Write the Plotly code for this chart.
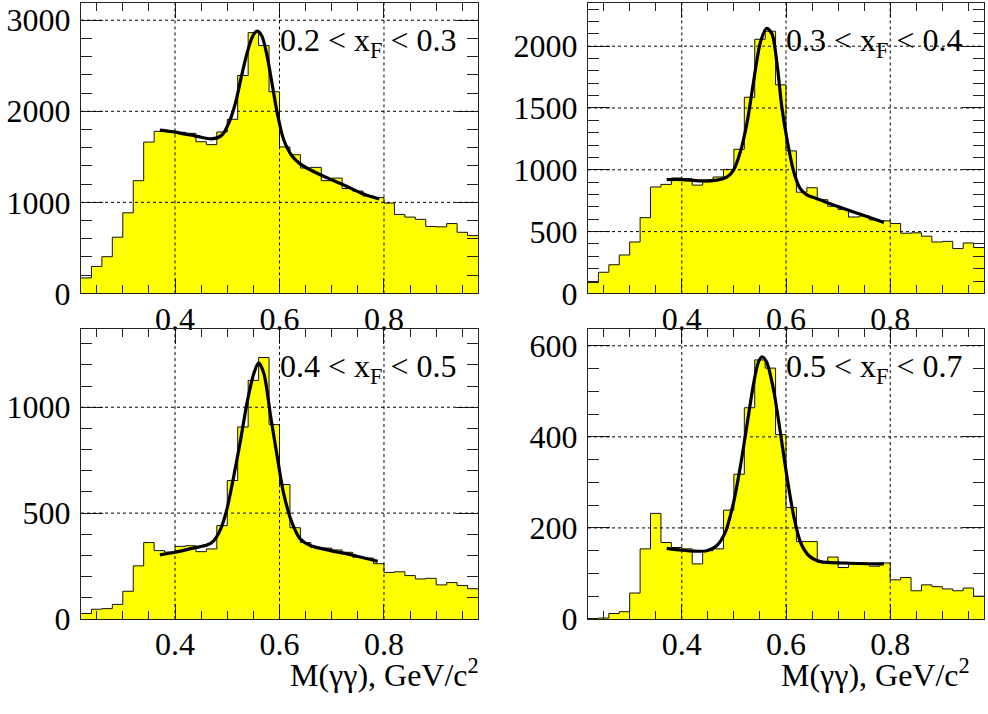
import numpy as np
import plotly.graph_objects as go

# Binning of the two-photon invariant mass histograms (GeV/c^2)
M_LOW, M_HIGH, N_BINS = 0.22, 0.98, 38

# Entries per 20 MeV bin for each x_F interval
counts_02_03 = [170, 296, 403, 617, 885, 1238, 1662, 1780, 1780, 1769,
                1758, 1666, 1634, 1773, 1912, 2393, 2864, 2722, 2215, 1609,
                1523, 1377, 1384, 1238, 1266, 1152, 1124, 1070, 1052, 992,
                867, 838, 813, 735, 731, 767, 671, 635]
counts_03_04 = [88, 171, 232, 311, 416, 613, 861, 882, 934, 929,
                876, 903, 942, 1003, 1166, 1587, 2056, 2121, 1687, 1153,
                819, 855, 758, 705, 679, 618, 626, 595, 587, 566,
                487, 490, 463, 416, 421, 363, 408, 371]
counts_04_05 = [26, 46, 49, 69, 131, 251, 361, 323, 316, 343,
                346, 318, 331, 441, 654, 907, 1127, 1235, 918, 635,
                431, 361, 338, 335, 326, 315, 292, 288, 261, 220,
                223, 205, 189, 192, 161, 172, 158, 143]
counts_05_07 = [1, 2, 12, 16, 57, 154, 232, 168, 157, 154,
                121, 150, 154, 239, 318, 464, 569, 551, 405, 245,
                170, 170, 124, 136, 113, 121, 121, 116, 123, 86,
                91, 62, 75, 71, 66, 62, 68, 50]

# Fitted signal + background curves (mass, entries)
fit_x_02_03 = [0.371, 0.400, 0.442, 0.470, 0.490, 0.505, 0.517, 0.527, 0.538,
               0.549, 0.557, 0.566, 0.576, 0.586, 0.596, 0.608, 0.624, 0.640,
               0.679, 0.724, 0.762, 0.791]
fit_y_02_03 = [1794, 1772, 1725, 1697, 1740, 1900, 2120, 2380, 2640,
               2830, 2880, 2830, 2615, 2294, 1972, 1687, 1509, 1420,
               1300, 1188, 1088, 1038]
fit_x_03_04 = [0.371, 0.400, 0.435, 0.467, 0.487, 0.499, 0.512, 0.525, 0.538,
               0.551, 0.563, 0.573, 0.583, 0.592, 0.602, 0.615, 0.627, 0.640,
               0.660, 0.698, 0.743, 0.788]
fit_y_03_04 = [921, 921, 910, 916, 942, 995, 1140, 1376, 1719,
               2034, 2145, 2100, 1850, 1508, 1245, 982, 850, 797,
               766, 705, 640, 574]
fit_x_04_05 = [0.371, 0.400, 0.435, 0.461, 0.474, 0.487, 0.499, 0.512, 0.525,
               0.538, 0.551, 0.560, 0.570, 0.583, 0.596, 0.608, 0.624, 0.640,
               0.660, 0.698, 0.743, 0.788]
fit_y_04_05 = [303, 315, 335, 349, 369, 423, 515, 669, 838,
               1023, 1161, 1210, 1161, 958, 761, 592, 454, 377,
               346, 323, 300, 272]
fit_x_05_07 = [0.371, 0.400, 0.422, 0.448, 0.467, 0.483, 0.499, 0.512, 0.525,
               0.538, 0.547, 0.554, 0.563, 0.576, 0.589, 0.602, 0.615, 0.628,
               0.644, 0.666, 0.711, 0.788]
fit_y_05_07 = [155, 151, 149, 150, 161, 189, 254, 332, 425,
               518, 564, 576, 564, 504, 411, 311, 225, 168,
               139, 126, 123, 121]

panel_labels = ["0.2 &lt; x<sub>F</sub> &lt; 0.3", "0.3 &lt; x<sub>F</sub> &lt; 0.4",
                "0.4 &lt; x<sub>F</sub> &lt; 0.5", "0.5 &lt; x<sub>F</sub> &lt; 0.7"]
x_title = "M(γγ), GeV/c<sup>2</sup>"

x_major, x_minor = 0.2, 0.05
y_tops = [3190, 2350, 1372, 638]
y_major = [1000, 500, 500, 200]
y_minor = [200, 100, 100, 50]

counts = [counts_02_03, counts_03_04, counts_04_05, counts_05_07]
fits = [(fit_x_02_03, fit_y_02_03), (fit_x_03_04, fit_y_03_04),
        (fit_x_04_05, fit_y_04_05), (fit_x_05_07, fit_y_05_07)]

W, H = 988, 714
# panel boxes in pixels: (left, right, top, bottom)
boxes = [(81, 478, 3, 301), (588, 984, 3, 301),
         (81, 478, 337, 635), (588, 984, 337, 635)]

FONT = "Liberation Serif, Times New Roman, serif"
FS = 32
edges = np.linspace(M_LOW, M_HIGH, N_BINS + 1)

fig = go.Figure()
layout = dict(width=W, height=H, margin=dict(l=0, r=0, t=0, b=0),
              paper_bgcolor="white", plot_bgcolor="white", showlegend=False,
              font=dict(family=FONT, size=FS, color="black"))
annotations = []
shapes = []

for i in range(4):
    n = "" if i == 0 else str(i + 1)
    xa, ya = "x" + n, "y" + n
    l, r, t, b = boxes[i]
    vals = counts[i]
    fig.add_trace(go.Scatter(
        x=edges, y=list(vals) + [vals[-1]], mode="lines", line_shape="hv",
        line=dict(color="#111111", width=1), fill="tozeroy",
        fillcolor="#ffff00", xaxis=xa, yaxis=ya, hoverinfo="skip"))
    fx, fy = fits[i]
    fig.add_trace(go.Scatter(
        x=fx, y=fy, mode="lines", line=dict(color="black", width=3.2,
                                            shape="spline", smoothing=0.8),
        xaxis=xa, yaxis=ya, hoverinfo="skip"))

    common = dict(showline=True, linecolor="#222222", linewidth=1.2,
                  mirror="ticks", ticks="inside", tickcolor="#222222",
                  showgrid=False, zeroline=False,
                  tickfont=dict(family=FONT, size=FS, color="black"))
    layout["xaxis" + n] = dict(
        domain=[l / W, r / W], range=[M_LOW, M_HIGH], anchor=ya,
        tick0=0, dtick=x_major, ticklen=15, tickformat=".1f",
        ticklabelstandoff=-3,
        minor=dict(ticks="inside", ticklen=8, dtick=x_minor, tick0=0,
                   tickcolor="#222222", showgrid=False),
        **common)
    layout["yaxis" + n] = dict(
        domain=[1 - b / H, 1 - t / H], range=[0, y_tops[i]], anchor=xa,
        tick0=0, dtick=y_major[i], ticklen=22, ticklabelstandoff=3,
        minor=dict(ticks="inside", ticklen=11, dtick=y_minor[i], tick0=0,
                   tickcolor="#222222", showgrid=False),
        **common)

    # dotted grid at the major ticks, drawn over the histogram
    for gx in np.arange(x_major * np.ceil(M_LOW / x_major), M_HIGH, x_major):
        if gx > M_LOW + 1e-6:
            shapes.append(dict(type="line", xref=xa, yref=ya + " domain",
                               x0=gx, x1=gx, y0=0, y1=1, layer="above",
                               line=dict(color="black", width=1, dash="dot")))
    for gy in np.arange(y_major[i], y_tops[i], y_major[i]):
        shapes.append(dict(type="line", xref=xa + " domain", yref=ya,
                           x0=0, x1=1, y0=gy, y1=gy, layer="above",
                           line=dict(color="black", width=1, dash="dot")))

    annotations.append(dict(text=panel_labels[i], xref=xa + " domain",
                            yref=ya + " domain", x=0.495, y=0.94,
                            xanchor="left", yanchor="top", showarrow=False,
                            font=dict(family=FONT, size=FS, color="black")))

# mass axis titles under the lower row
for xr in (481, 972):
    annotations.append(dict(text=x_title, xref="paper", yref="paper",
                            x=xr / W, y=1 - 690 / H, xanchor="right",
                            yanchor="middle", showarrow=False,
                            font=dict(family=FONT, size=FS, color="black")))

layout["annotations"] = annotations
layout["shapes"] = shapes
fig.update_layout(**layout)
fig.write_html("out.html")
